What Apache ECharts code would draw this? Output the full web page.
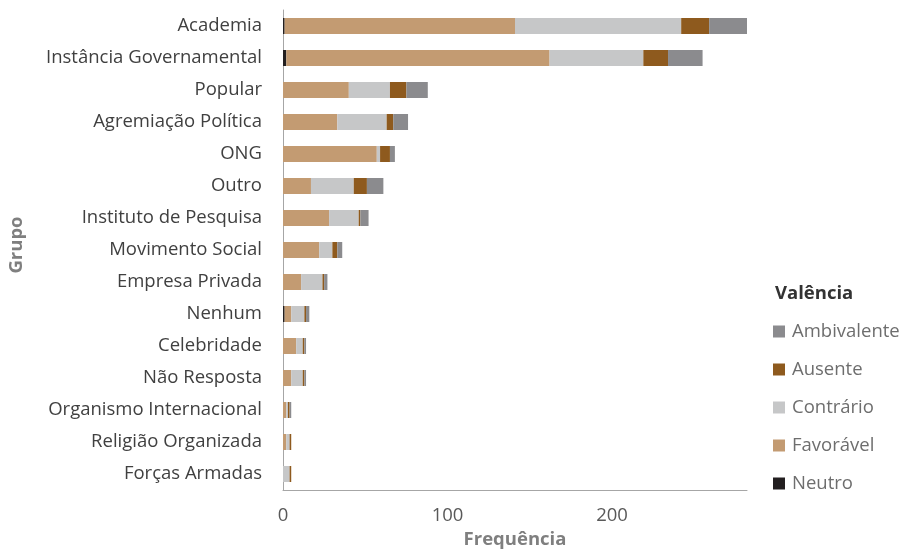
<!DOCTYPE html>
<html>
<head>
<meta charset="utf-8">
<script src="https://cdn.jsdelivr.net/npm/echarts@6/dist/echarts.min.js"></script>
<style>
  html, body { margin: 0; padding: 0; background: #ffffff; }
  #chart { width: 901px; height: 554px; }
</style>
</head>
<body>
<div id="chart"></div>
<script>
// Grupos (de cima para baixo)
const categories = [
  'Academia', 'Instância Governamental', 'Popular', 'Agremiação Política', 'ONG',
  'Outro', 'Instituto de Pesquisa', 'Movimento Social', 'Empresa Privada', 'Nenhum',
  'Celebridade', 'Não Resposta', 'Organismo Internacional', 'Religião Organizada', 'Forças Armadas'
];

// Frequência por valência, na mesma ordem dos grupos
const neutro      = [1, 2, 0, 0, 0, 0, 0, 0, 0, 1, 0, 0, 0, 0, 0];
const favoravel   = [140, 160, 40, 33, 57, 17, 28, 22, 11, 4, 8, 5, 2, 2, 0];
const contrario   = [101, 57, 25, 30, 2, 26, 18, 8, 13, 8, 4, 7, 1, 2, 4];
const ausente     = [17, 15, 10, 4, 6, 8, 1, 3, 1, 1, 1, 1, 1, 1, 1];
const ambivalente = [23, 21, 13, 9, 3, 10, 5, 3, 2, 2, 1, 1, 1, 0, 0];

const xTicks = [0, 100, 200];

const FONT = 'Open Sans';
const FS = 18.5;
const colors = {
  'Neutro': '#231f20',
  'Favorável': '#c39b72',
  'Contrário': '#c6c7c8',
  'Ausente': '#8e5a1e',
  'Ambivalente': '#8b8b8e'
};

const stackSeries = [
  ['Neutro', neutro],
  ['Favorável', favoravel],
  ['Contrário', contrario],
  ['Ausente', ausente],
  ['Ambivalente', ambivalente]
].map(([name, values]) => ({
  name,
  type: 'bar',
  stack: 'total',
  barWidth: '50%',
  itemStyle: { color: colors[name] },
  emphasis: { disabled: true },
  data: values
}));

const chart = echarts.init(document.getElementById('chart'), null, { renderer: 'canvas' });
chart.setOption({
  animation: false,
  textStyle: { fontFamily: FONT },
  title: {
    text: 'Valência',
    left: 770,
    top: 279,
    textStyle: { fontFamily: FONT, fontSize: FS, fontWeight: 'bold', color: '#333333' }
  },
  legend: {
    orient: 'vertical',
    left: 768,
    top: 317,
    itemWidth: 12,
    itemHeight: 12,
    itemGap: 19,
    icon: 'rect',
    data: ['Ambivalente', 'Ausente', 'Contrário', 'Favorável', 'Neutro'],
    textStyle: { fontFamily: FONT, fontSize: FS, color: '#6e6e6e', lineHeight: 18, padding: [0, 0, 0, 2] }
  },
  grid: { left: 283, right: 154, top: 10, bottom: 64, containLabel: false, outerBoundsMode: 'none' },
  xAxis: {
    type: 'value',
    min: 0,
    max: 282,
    interval: 100,
    name: 'Frequência',
    nameLocation: 'middle',
    nameGap: 38,
    nameTextStyle: { fontFamily: FONT, fontSize: FS, fontWeight: 'bold', color: '#7f7f7f' },
    axisLine: { show: true, lineStyle: { color: '#a6a6a6', width: 1 } },
    axisTick: { show: false },
    splitLine: { show: false },
    axisLabel: {
      margin: 16,
      fontFamily: FONT, fontSize: FS, color: '#595959',
      formatter: v => (xTicks.includes(v) ? String(v) : '')
    }
  },
  yAxis: {
    type: 'category',
    inverse: true,
    data: categories,
    name: 'Grupo',
    nameLocation: 'middle',
    nameGap: 257,
    nameRotate: 90,
    nameTextStyle: {
      fontFamily: FONT, fontSize: FS, fontWeight: 'bold', color: '#7f7f7f',
      padding: [0, 0, 0, 10]
    },
    axisLine: { show: true, lineStyle: { color: '#a6a6a6', width: 1 } },
    axisTick: { show: false },
    axisLabel: { margin: 21, fontFamily: FONT, fontSize: FS, color: '#404040' }
  },
  series: stackSeries
});
</script>
</body>
</html>
